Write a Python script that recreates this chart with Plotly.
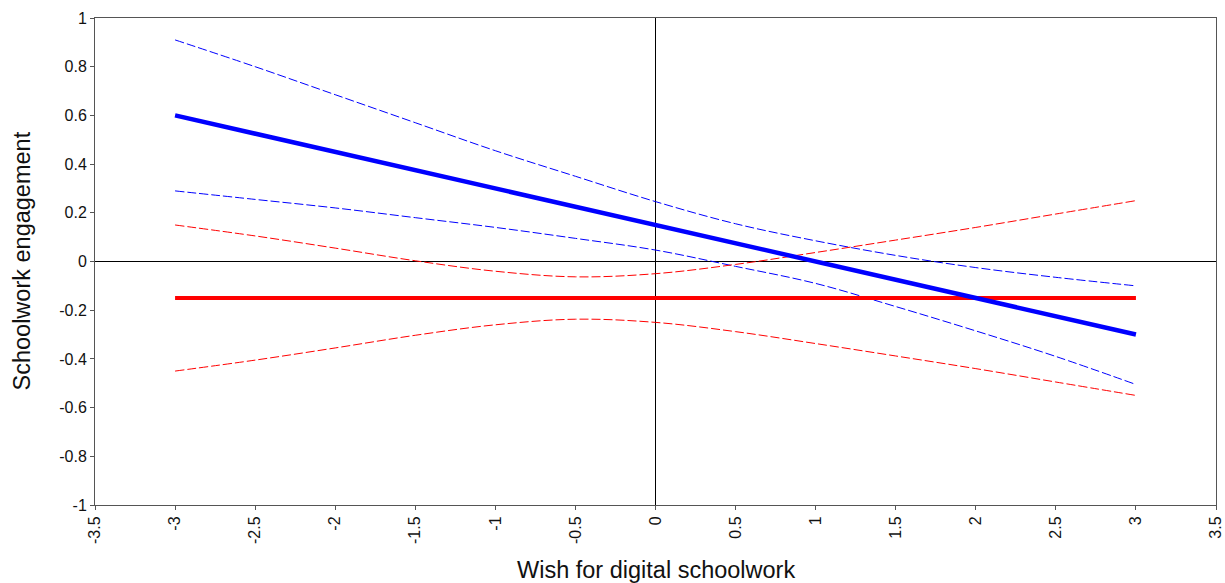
import plotly.graph_objects as go

# Data
x_vals = [-3, -2.5, -2, -1.5, -1, -0.5, 0, 0.5, 1, 1.5, 2, 2.5, 3]

blue_mid = [0.6, 0.525, 0.45, 0.375, 0.3, 0.225, 0.15, 0.075, 0.0, -0.075, -0.15, -0.225, -0.3]
blue_upper = [0.91, 0.80, 0.685, 0.57, 0.455, 0.35, 0.246, 0.155, 0.085, 0.025, -0.025, -0.065, -0.10]
blue_lower = [0.29, 0.255, 0.22, 0.18, 0.14, 0.095, 0.047, -0.02, -0.09, -0.185, -0.285, -0.39, -0.505]

red_mid = [-0.15, -0.15, -0.15, -0.15, -0.15, -0.15, -0.15, -0.15, -0.15, -0.15, -0.15, -0.15, -0.15]
red_upper = [0.15, 0.105, 0.055, 0.003, -0.04, -0.063, -0.05, -0.012, 0.037, 0.088, 0.14, 0.195, 0.25]
red_lower = [-0.45, -0.405, -0.355, -0.303, -0.26, -0.237, -0.25, -0.288, -0.337, -0.388, -0.44, -0.495, -0.55]

x_ticks = [-3.5, -3, -2.5, -2, -1.5, -1, -0.5, 0, 0.5, 1, 1.5, 2, 2.5, 3, 3.5]
x_ticklabels = ["-3.5", "-3", "-2.5", "-2", "-1.5", "-1", "-0.5", "0", "0.5", "1", "1.5", "2", "2.5", "3", "3.5"]
y_ticks = [-1, -0.8, -0.6, -0.4, -0.2, 0, 0.2, 0.4, 0.6, 0.8, 1]
y_ticklabels = ["-1", "-0.8", "-0.6", "-0.4", "-0.2", "0", "0.2", "0.4", "0.6", "0.8", "1"]

x_title = "Wish for digital schoolwork"
y_title = "Schoolwork engagement"

FONT = "Arial, Liberation Sans, sans-serif"
BLUE = "#0000ff"
RED = "#ff0000"
DASH = "9px,3px"

fig = go.Figure()

for ys, col in [(blue_upper, BLUE), (blue_lower, BLUE), (red_upper, RED), (red_lower, RED)]:
    fig.add_trace(go.Scatter(x=x_vals, y=ys, mode="lines",
                             line=dict(color=col, width=1, dash=DASH, shape="spline", smoothing=1),
                             hoverinfo="skip", showlegend=False))

fig.add_trace(go.Scatter(x=x_vals, y=red_mid, mode="lines",
                         line=dict(color=RED, width=4), showlegend=False))
fig.add_trace(go.Scatter(x=x_vals, y=blue_mid, mode="lines",
                         line=dict(color=BLUE, width=4.5), showlegend=False))

fig.update_layout(
    width=1225, height=583,
    margin=dict(l=95, r=9, t=18, b=78, autoexpand=False),
    paper_bgcolor="white", plot_bgcolor="white",
    font=dict(family=FONT, size=16, color="#111111"),
    showlegend=False,
    xaxis=dict(range=[-3.5, 3.5], tickmode="array", tickvals=x_ticks, ticktext=x_ticklabels,
               tickangle=-90, ticks="outside", ticklen=4, tickcolor="#555555",
               showline=True, linecolor="#555555", linewidth=1, mirror=True, automargin=False,
               showgrid=False, zeroline=True, zerolinecolor="#000000", zerolinewidth=1,
               tickfont=dict(family=FONT, size=16, color="#111111")),
    yaxis=dict(range=[-1, 1], tickmode="array", tickvals=y_ticks, ticktext=y_ticklabels,
               ticks="outside", ticklen=4, tickcolor="#555555",
               showline=True, linecolor="#555555", linewidth=1, mirror=True, automargin=False,
               showgrid=False, zeroline=True, zerolinecolor="#000000", zerolinewidth=1,
               tickfont=dict(family=FONT, size=16, color="#111111")),
    annotations=[
        dict(text=x_title, xref="paper", yref="paper", x=0.5, y=0.0, yshift=-65,
             xanchor="center", yanchor="middle", showarrow=False,
             font=dict(family=FONT, size=23.5, color="#111111")),
        dict(text=y_title, xref="paper", yref="paper", x=0, y=0.5, xshift=-74,
             xanchor="center", yanchor="middle", textangle=-90, showarrow=False,
             font=dict(family=FONT, size=23.5, color="#111111")),
    ],
)

fig.write_html("out.html", config={"displayModeBar": False},
               post_script="document.body.style.margin='0';document.body.style.overflow='hidden';")
